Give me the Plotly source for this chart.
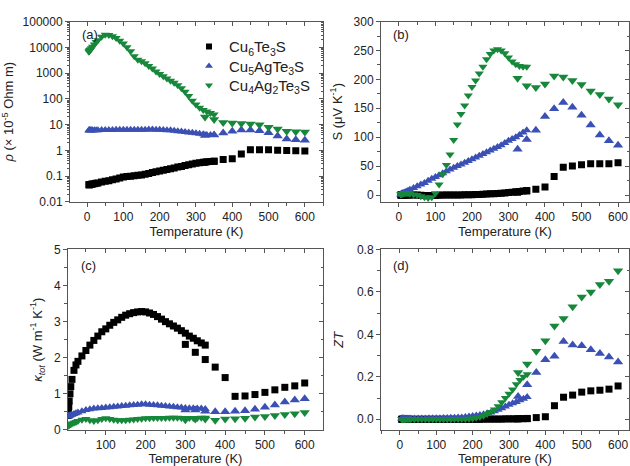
import plotly.graph_objects as go

# ---------------- data ----------------
T_low = [5, 6, 7, 8, 10, 12, 15, 20, 25, 30,
         40, 50, 60, 70, 80, 90, 100, 110,
         120, 130, 140, 150, 160, 170, 180, 190,
         200, 210, 220, 230, 240, 250, 260, 270,
         280, 290, 300, 310, 320, 330, 340, 350]
T_high = [300, 325, 350, 375, 400, 425, 450, 475, 500, 525, 550, 575, 600]

series_names = ["Cu<sub>6</sub>Te<sub>3</sub>S", "Cu<sub>5</sub>AgTe<sub>3</sub>S", "Cu<sub>4</sub>Ag<sub>2</sub>Te<sub>3</sub>S"]

# (a) resistivity (x 1e-5 Ohm m)
rho_cu6_low = [0.047, 0.047, 0.047, 0.048, 0.048, 0.049, 0.05, 0.051, 0.053, 0.055,
               0.059, 0.063, 0.067, 0.072, 0.077, 0.085, 0.092, 0.097,
               0.1, 0.104, 0.108, 0.112, 0.12, 0.128, 0.138, 0.148,
               0.16, 0.17, 0.18, 0.195, 0.21, 0.225, 0.24, 0.26,
               0.28, 0.3, 0.32, 0.33, 0.35, 0.36, 0.37, 0.38]
rho_cu5_low = [6.0, 6.0, 6.0, 6.0, 6.0, 6.0, 6.1, 6.1, 6.1, 6.1,
               6.2, 6.2, 6.2, 6.2, 6.3, 6.3, 6.3, 6.3,
               6.3, 6.3, 6.3, 6.3, 6.4, 6.5, 6.5, 6.4,
               6.3, 6.2, 6.1, 6.0, 5.8, 5.6, 5.4, 5.2,
               5.0, 4.8, 4.6, 4.4, 4.2, 4.0, 4.0, 4.0]
rho_cu4_low = [6800, 7100, 7500, 7900, 8500, 9300, 10500, 13000, 16000, 19000,
               26000, 31000, 30000, 27000, 23000, 18000, 14000, 10000,
               7000, 4500, 3300, 2900, 2400, 1900, 1500, 1150,
               920, 760, 620, 510, 420, 340, 260, 190,
               130, 85, 60, 45, 37, 32, 28, 25]
rho_cu6_high = [None, 0.35, 0.38, 0.44, 0.47, 0.73, 1.05, 1.05, 1.05, 1.02, 1.0, 0.98, 0.95]
rho_cu5_high = [None, 3.8, 4.0, 4.7, 5.5, 6.2, 6.2, 5.8, 4.8, 3.6, 2.8, 2.6, 2.5]
rho_cu4_high = [None, 20, 16, 12, 11.5, 11, 10.5, 10, 8, 6.8, 5.5, 5.3, 5.2]

# (b) Seebeck (uV/K)
S_cu6_low = [0, 0, 0, 0, 0, 0, 0, 0, 0, 0,
             0, 0, -0.5, -1, -1, -1, -1, -0.5,
             0, 0, 0, 0, 0, 0.2, 0.3, 0.4,
             0.5, 0.8, 1.0, 1.3, 1.6, 2.0, 2.4, 2.8,
             3.2, 3.7, 4.2, 4.8, 5.5, 6.2, 7.0, 8.0]
S_cu5_low = [1, 1.5, 2, 2.5, 3, 3.5, 4.5, 6, 7.5, 9,
             12, 15, 18, 21, 24.5, 28, 31, 34,
             37.5, 41, 44, 47, 50, 53, 56, 59,
             62, 65, 68, 71, 74, 77, 80, 83,
             86, 90, 94, 97, 100, 104, 108, 112]
S_cu4_low = [1, 1.2, 1.5, 1.8, 2, 2.5, 3, 3, 3, 2,
             1, 0, -2, -4, -5, -4, 3, 18,
             36, 52, 70, 95, 122, 140, 155, 172,
             187, 198, 210, 222, 235, 244, 250, 252,
             250, 245, 238, 231, 226, 223, 222, 222]
S_cu6_high = [None, 5, 7, 10, 14, 32, 48, 50, 52.5, 54, 54, 54, 56]
S_cu5_high = [None, 79, 96, 112, 136, 149, 160, 152, 138, 121, 104, 94, 86]
S_cu4_high = [None, 202, 189, 186, 192, 206, 204, 198, 191, 180, 174, 166, 156]

# (c) thermal conductivity (W/m/K)
k_cu6_low = [0.4, 0.5, 0.65, 0.8, 1.0, 1.2, 1.4, 1.65, 1.8, 1.9,
             2.05, 2.2, 2.35, 2.48, 2.6, 2.72, 2.8, 2.9,
             2.98, 3.05, 3.12, 3.18, 3.22, 3.25, 3.27, 3.28,
             3.27, 3.24, 3.2, 3.14, 3.07, 3.0, 2.94, 2.88,
             2.82, 2.75, 2.68, 2.6, 2.54, 2.47, 2.41, 2.35]
k_cu5_low = [0.38, 0.38, 0.38, 0.39, 0.4, 0.41, 0.42, 0.44, 0.46, 0.48,
             0.52, 0.55, 0.57, 0.59, 0.6, 0.61, 0.62, 0.63,
             0.64, 0.65, 0.66, 0.67, 0.68, 0.69, 0.7, 0.71,
             0.71, 0.7, 0.69, 0.68, 0.67, 0.66, 0.65, 0.64,
             0.63, 0.62, 0.61, 0.6, 0.6, 0.59, 0.59, 0.58]
k_cu4_low = [0.12, 0.12, 0.13, 0.14, 0.15, 0.16, 0.18, 0.2, 0.22, 0.25,
             0.28, 0.3, 0.27, 0.25, 0.27, 0.3, 0.32, 0.3,
             0.28, 0.27, 0.27, 0.27, 0.28, 0.29, 0.3, 0.31,
             0.32, 0.32, 0.33, 0.33, 0.33, 0.33, 0.34, 0.34,
             0.34, 0.33, 0.32, 0.33, 0.33, 0.33, 0.34, 0.34]
k_cu6_high = [2.37, 2.15, 1.95, 1.74, 1.45, 0.93, 0.94, 0.98, 1.04, 1.11, 1.18, 1.22, 1.3]
k_cu5_high = [0.55, 0.55, 0.52, 0.5, 0.5, 0.52, 0.53, 0.57, 0.63, 0.69, 0.77, 0.83, 0.86]
k_cu4_high = [0.28, 0.3, 0.3, 0.27, 0.3, 0.31, 0.32, 0.36, 0.37, 0.4, 0.43, 0.45, 0.48]

# (d) ZT
zt_cu6_low = [0, 0, 0, 0, 0, 0, 0, 0, 0, 0,
              0, 0, 0, 0, 0, 0, 0, 0,
              0, 0, 0, 0, 0, 0, 0, 0,
              0, 0, 0, 0.001, 0.001, 0.001, 0.001, 0.001,
              0.001, 0.002, 0.002, 0.002, 0.002, 0.003, 0.003, 0.003]
zt_cu5_low = [0.004, 0.004, 0.004, 0.004, 0.004, 0.004, 0.004, 0.004, 0.004, 0.004,
              0.004, 0.004, 0.004, 0.004, 0.005, 0.005, 0.005, 0.005,
              0.006, 0.006, 0.007, 0.007, 0.008, 0.009, 0.011, 0.013,
              0.015, 0.018, 0.02, 0.024, 0.028, 0.032, 0.038, 0.045,
              0.052, 0.06, 0.068, 0.075, 0.082, 0.09, 0.097, 0.105]
zt_cu4_low = [0, 0, 0, 0, 0, 0, 0, 0, 0, 0,
              0, 0, 0, 0, 0, 0, 0, 0,
              0, 0, 0, 0.001, 0.001, 0.001, 0.001, 0.002,
              0.004, 0.007, 0.011, 0.017, 0.025, 0.034, 0.046, 0.062,
              0.08, 0.1, 0.12, 0.14, 0.165, 0.185, 0.2, 0.212]
zt_cu6_high = [None, 0.002, 0.004, 0.008, 0.012, 0.064, 0.104, 0.114, 0.128, 0.134, 0.137, 0.142, 0.157]
zt_cu5_high = [None, 0.107, 0.163, 0.22, 0.28, 0.297, 0.366, 0.35, 0.347, 0.328, 0.31, 0.294, 0.27]
zt_cu4_high = [None, 0.22, 0.26, 0.32, 0.37, 0.44, 0.475, 0.53, 0.576, 0.6, 0.635, 0.65, 0.70]

# ---------------- style ----------------
COLORS = ["#000000", "#3a50b4", "#17883b"]
SYMBOLS = ["square", "triangle-up", "triangle-down"]
SIZE_LOW = [7, 8, 8]
SIZE_HIGH = [7, 9, 9]
SIZE_LEG = [6, 7, 7]
FONT = "Liberation Sans, Arial, sans-serif"
TXT = "#222222"
LINE = "#555555"

fig = go.Figure()

panels = [
    ("x", "y", [rho_cu6_low, rho_cu5_low, rho_cu4_low], [rho_cu6_high, rho_cu5_high, rho_cu4_high]),
    ("x2", "y2", [S_cu6_low, S_cu5_low, S_cu4_low], [S_cu6_high, S_cu5_high, S_cu4_high]),
    ("x3", "y3", [k_cu6_low, k_cu5_low, k_cu4_low], [k_cu6_high, k_cu5_high, k_cu4_high]),
    ("x4", "y4", [zt_cu6_low, zt_cu5_low, zt_cu4_low], [zt_cu6_high, zt_cu5_high, zt_cu4_high]),
]

for pi, (xa, ya, lows, highs) in enumerate(panels):
    for si in range(3):
        fig.add_trace(go.Scatter(
            x=T_low, y=lows[si], mode="markers", xaxis=xa, yaxis=ya,
            marker=dict(color=COLORS[si], symbol=SYMBOLS[si], size=SIZE_LOW[si], line_width=0),
            name=series_names[si], showlegend=False))
        fig.add_trace(go.Scatter(
            x=T_high, y=highs[si], mode="markers", xaxis=xa, yaxis=ya,
            marker=dict(color=COLORS[si], symbol=SYMBOLS[si], size=SIZE_HIGH[si], line_width=0),
            name=series_names[si], showlegend=False))

# legend-only entries, one legend per entry for exact placement
legend_ids = ["legend", "legend2", "legend3"]
for si in range(3):
    fig.add_trace(go.Scatter(
        x=[None], y=[None], mode="markers", xaxis="x", yaxis="y",
        marker=dict(color=COLORS[si], symbol=SYMBOLS[si], size=SIZE_LEG[si], line_width=0),
        name=series_names[si], showlegend=True, legend=legend_ids[si]))

common = dict(showline=True, linecolor=LINE, linewidth=1, mirror=True, ticks="outside",
              ticklen=4, tickcolor=LINE, showgrid=False, zeroline=False,
              tickfont=dict(size=12, color=TXT, family=FONT))

def xax(domain, rng, anchor, tickvals):
    return dict(common, domain=domain, range=rng, anchor=anchor, tickmode="array",
                tickvals=tickvals,
                minor=dict(ticks="outside", ticklen=3, tickcolor=LINE, dtick=50, tick0=0),
                title=dict(text="Temperature (K)", font=dict(size=13, color=TXT, family=FONT), standoff=1))

def top_ax(over, rng, anchor):
    return dict(overlaying=over, side="top", anchor=anchor, range=rng, showline=False,
                showgrid=False, zeroline=False, showticklabels=False, ticks="inside",
                ticklen=4, tickcolor=LINE, dtick=100, tick0=0,
                minor=dict(ticks="inside", ticklen=3, tickcolor=LINE, dtick=50, tick0=0))

def right_ax(over, rng, anchor, dtick, mdtick, typ="linear"):
    d = dict(overlaying=over, side="right", anchor=anchor, range=rng, type=typ, showline=False,
             showgrid=False, zeroline=False, showticklabels=False, ticks="inside",
             ticklen=4, tickcolor=LINE, dtick=dtick, tick0=0,
             minor=dict(ticks="inside", ticklen=2, tickcolor=LINE, dtick=mdtick))
    if typ == "linear":
        d["minor"]["tick0"] = 0
    return d

Ta = [0, 100, 200, 300, 400, 500, 600]
Tc = [100, 200, 300, 400, 500, 600]

dax = [70 / 630, 323 / 630]
dbx = [381 / 630, 629 / 630]
dcx = [68 / 630, 323 / 630]
dyt = [(466 - 201) / 466, (466 - 15) / 466]
dyb = [(466 - 436) / 466, (466 - 250) / 466]

ytf = dict(size=13, color=TXT, family=FONT)

ra = [-47, 650]
rb = [-49, 630]
rc = [5, 646]
rd = [-52, 630]

fig.update_layout(
    width=630, height=466, margin=dict(l=0, r=0, t=0, b=0),
    paper_bgcolor="white", plot_bgcolor="white",
    font=dict(family=FONT, color=TXT),
    xaxis=xax(dax, ra, "y", Ta),
    xaxis2=xax(dbx, rb, "y2", Ta),
    xaxis3=xax(dcx, rc, "y3", Tc),
    xaxis4=xax(dbx, rd, "y4", Ta),
    yaxis=dict(common, domain=dyt, anchor="x", type="log", range=[-2, 5],
               tickmode="array",
               tickvals=[0.01, 0.1, 1, 10, 100, 1000, 10000, 100000],
               ticktext=["0.01", "0.1", "1", "10", "100", "1000", "10000", "100000"],
               minor=dict(ticks="outside", ticklen=2, tickcolor=LINE, dtick="D1"),
               title=dict(text="<i>ρ</i> (× 10<sup>-5</sup> Ohm m)", font=ytf, standoff=5)),
    yaxis2=dict(common, domain=dyt, anchor="x2", range=[-12, 300], tickmode="array",
                tickvals=[0, 50, 100, 150, 200, 250, 300],
                minor=dict(ticks="outside", ticklen=3, tickcolor=LINE, dtick=25, tick0=0),
                title=dict(text="S (μV K<sup>-1</sup>)", font=ytf, standoff=8)),
    yaxis3=dict(common, domain=dyb, anchor="x3", range=[0, 5], tickmode="array",
                tickvals=[0, 1, 2, 3, 4, 5],
                minor=dict(ticks="outside", ticklen=3, tickcolor=LINE, dtick=0.5, tick0=0),
                title=dict(text="<i>κ<sub>tot</sub></i> (W m<sup>-1</sup> K<sup>-1</sup>)", font=ytf, standoff=8)),
    yaxis4=dict(common, domain=dyb, anchor="x4", range=[-0.05, 0.8], tickmode="array",
                tickvals=[0, 0.2, 0.4, 0.6, 0.8], tickformat=".1f",
                minor=dict(ticks="outside", ticklen=3, tickcolor=LINE, dtick=0.1, tick0=0),
                title=dict(text="<i>ZT</i>", font=ytf, standoff=10)),
    xaxis5=top_ax("x", ra, "y"),
    xaxis6=top_ax("x2", rb, "y2"),
    xaxis7=top_ax("x3", rc, "y3"),
    xaxis8=top_ax("x4", rd, "y4"),
    yaxis5=right_ax("y", [-2, 5], "x", 1, "D1", "log"),
    yaxis6=right_ax("y2", [-12, 300], "x2", 50, 25),
    yaxis7=right_ax("y3", [0, 5], "x3", 1, 0.5),
    yaxis8=right_ax("y4", [-0.05, 0.8], "x4", 0.2, 0.1),
    showlegend=True,
)

# invisible traces so the overlay (top/right tick) axes are drawn
for k in range(4):
    fig.add_trace(go.Scatter(x=[None], y=[None], mode="markers", xaxis="x%d" % (5 + k),
                             yaxis="y" if k == 0 else "y%d" % (1 + k), showlegend=False,
                             hoverinfo="skip"))
    fig.add_trace(go.Scatter(x=[None], y=[None], mode="markers",
                             xaxis="x" if k == 0 else "x%d" % (1 + k), yaxis="y%d" % (5 + k),
                             showlegend=False, hoverinfo="skip"))

leg_rows = [41, 61, 81]
for lid, row in zip(legend_ids, leg_rows):
    fig.update_layout({lid: dict(x=189 / 630, y=(466 - row) / 466, xanchor="left", yanchor="middle",
                                 bgcolor="rgba(0,0,0,0)", borderwidth=0,
                                 font=dict(size=15, color=TXT, family=FONT),
                                 itemsizing="trace")})

labels = [("(a)", 80, 28), ("(b)", 391, 28), ("(c)", 79, 266), ("(d)", 391, 266)]
for txt, px, py in labels:
    fig.add_annotation(text=txt, x=px / 630, y=(466 - py) / 466, xref="paper", yref="paper",
                       xanchor="left", yanchor="middle", showarrow=False,
                       font=dict(size=13, color=TXT, family=FONT))

fig.write_html("out.html")
